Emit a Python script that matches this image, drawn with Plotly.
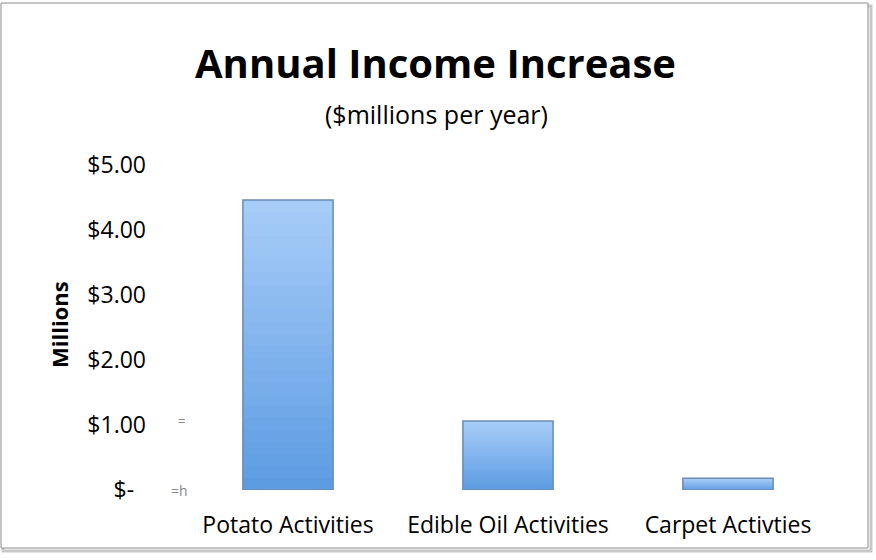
import plotly.graph_objects as go

categories = ["Potato Activities", "Edible Oil Activities", "Carpet Activties"]
values = [4.46, 1.06, 0.18]
tick_vals = [0, 1, 2, 3, 4, 5]
tick_text = ["$-  ", "$1.00", "$2.00", "$3.00", "$4.00", "$5.00"]

W, H = 876, 560
L, R, T, B = 178, 38, 165, 70
FONT = "Open Sans"

fig = go.Figure()

# vertical gradient inside each bar (styling only, derived from the values);
# segments overlap slightly so no seams appear
N = 24
top_rgb = (0xA8, 0xCD, 0xF8)
bot_rgb = (0x5C, 0x9B, 0xE2)
for i in range(N):
    f = (i + 0.5) / N
    c = tuple(round(b + (t - b) * f) for t, b in zip(top_rgb, bot_rgb))
    lo = i / N
    hi = min((i + 1.6) / N, 1.0)
    fig.add_trace(go.Bar(
        x=categories, y=[v * (hi - lo) for v in values], base=[v * lo for v in values],
        width=0.41, marker=dict(color="rgb(%d,%d,%d)" % c, line=dict(width=0)),
        hoverinfo="skip",
    ))
# outline
fig.add_trace(go.Bar(
    x=categories, y=values, width=0.41,
    marker=dict(color="rgba(0,0,0,0)", line=dict(color="#6A8CB4", width=1.5)),
))

fig.update_layout(
    width=W, height=H,
    margin=dict(l=L, r=R, t=T, b=B),
    paper_bgcolor="white", plot_bgcolor="white",
    showlegend=False, barmode="overlay",
    font=dict(family=FONT, color="#000000"),
    xaxis=dict(showgrid=False, showline=False, ticks="", zeroline=False,
               tickfont=dict(size=23, family=FONT), ticklabelstandoff=19),
    yaxis=dict(range=[0, 5], tickvals=tick_vals, ticktext=tick_text,
               showgrid=False, showline=False, zeroline=False, ticks="",
               tickfont=dict(size=23, family=FONT), ticklabelstandoff=31),
)

def px_x(px):
    return (px - L) / (W - L - R)

def px_y(py):
    return (H - B - py) / (H - T - B)

fig.add_annotation(text="<b>Annual Income Increase</b>", xref="paper", yref="paper",
                   x=px_x(435), y=px_y(62), showarrow=False,
                   font=dict(size=40, family=FONT, color="black"),
                   xanchor="center", yanchor="middle")
fig.add_annotation(text="($millions per year)", xref="paper", yref="paper",
                   x=px_x(436), y=px_y(114), showarrow=False,
                   font=dict(size=25, family=FONT, color="black"),
                   xanchor="center", yanchor="middle")
fig.add_annotation(text="<b>Millions</b>", xref="paper", yref="paper",
                   x=px_x(59), y=px_y(325), showarrow=False, textangle=-90,
                   font=dict(size=22, family=FONT, color="black"),
                   xanchor="center", yanchor="middle")
# small stray glyphs in the original
fig.add_annotation(text="=", xref="paper", yref="paper",
                   x=px_x(181), y=px_y(421), showarrow=False,
                   font=dict(size=13, family=FONT, color="#888888"),
                   xanchor="center", yanchor="middle")
fig.add_annotation(text="=h", xref="paper", yref="paper",
                   x=px_x(179), y=px_y(490), showarrow=False,
                   font=dict(size=14, family=FONT, color="#888888"),
                   xanchor="center", yanchor="middle")

# chart frame with shadow
fig.add_shape(type="rect", xref="paper", yref="paper",
              x0=px_x(3), x1=px_x(871), y0=px_y(551), y1=px_y(6),
              line=dict(color="#C8C8C8", width=3), layer="below")
fig.add_shape(type="rect", xref="paper", yref="paper",
              x0=px_x(1), x1=px_x(868), y0=px_y(548), y1=px_y(3),
              line=dict(color="#8C8C8C", width=1), fillcolor="white", layer="below")

fig.write_html("out.html")
